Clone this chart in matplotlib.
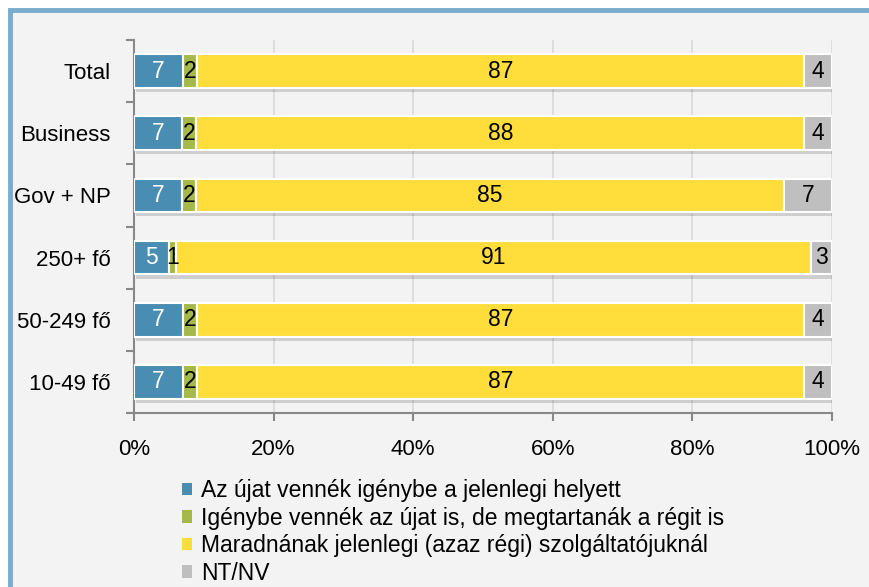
import matplotlib.pyplot as plt
import matplotlib.patheffects as pe
from matplotlib.patches import Rectangle
import numpy as np

plt.rcParams['font.family'] = ['Liberation Sans', 'DejaVu Sans']

categories = ['Total', 'Business', 'Gov + NP', '250+ fő', '50-249 fő', '10-49 fő']
series_names = ['Az újat vennék igénybe a jelenlegi helyett',
                'Igénybe vennék az újat is, de megtartanák a régit is',
                'Maradnának jelenlegi (azaz régi) szolgáltatójuknál',
                'NT/NV']
uj = [7, 7, 7, 5, 7, 7]
mindketto = [2, 2, 2, 1, 2, 2]
marad = [87, 88, 85, 91, 87, 87]
ntnv = [4, 4, 7, 3, 4, 4]
colors = ['#4a8db3', '#a5b94a', '#ffde3c', '#bfbfbf']
label_colors = ['white', 'black', 'black', 'black']
xticks = [0, 20, 40, 60, 80, 100]
xtick_labels = ['0%', '20%', '40%', '60%', '80%', '100%']

W, H = 869, 587
fig = plt.figure(figsize=(W / 100, H / 100), dpi=100, facecolor='white')
# background panel with blue frame on top/left
fig.patches.append(Rectangle((9.5 / W, -0.1), 1.2, 1 - 9.5 / H + 0.1, transform=fig.transFigure,
                             facecolor='#f3f3f3', edgecolor='#7aaccc', linewidth=3.5, zorder=-10))

ax = fig.add_axes([134 / W, 1 - 413 / H, 698 / W, 373 / H])
ax.set_facecolor('none')

data = np.array([uj, mindketto, marad, ntnv], dtype=float)
pct = data / data.sum(axis=0) * 100
y = np.arange(len(categories))
left = np.zeros(len(categories))
shadow = [pe.SimplePatchShadow(offset=(1.5, -3), shadow_rgbFace='black', alpha=0.15), pe.Normal()]
for i in range(4):
    bars = ax.barh(y, pct[i], left=left, height=0.54, color=colors[i], edgecolor='white',
                   linewidth=1.5, zorder=3)
    for b in bars:
        b.set_path_effects(shadow)
    for j in range(len(categories)):
        ax.text(left[j] + pct[i][j] / 2, y[j], f'{int(data[i][j])}', ha='center', va='center',
                fontsize=16.5, color=label_colors[i], zorder=5)
    left += pct[i]

ax.set_xlim(0, 100)
ax.set_ylim(len(categories) - 0.5, -0.5)
ax.set_xticks(xticks)
ax.set_xticklabels(xtick_labels, fontsize=16)
ax.set_yticks(y)
ax.set_yticklabels(categories, fontsize=16)
ax.set_yticks(np.arange(-0.5, len(categories)), minor=True)
ax.tick_params(axis='y', which='major', length=0, pad=17)
ax.tick_params(axis='y', which='minor', length=6, width=1.5, color='#888888')
ax.tick_params(axis='x', length=6, width=1.5, color='#888888', pad=13)
ax.grid(axis='x', color='#d9d9d9', linewidth=1.2, zorder=0)
for s in ['top', 'right']:
    ax.spines[s].set_visible(False)
for s in ['left', 'bottom']:
    ax.spines[s].set_color('#888888')
    ax.spines[s].set_linewidth(1.5)

handles = [Rectangle((0, 0), 1, 1, facecolor=c, edgecolor='none') for c in colors]
fig.legend(handles, series_names, loc='upper left', bbox_to_anchor=(182 / W, 1 - 479 / H),
           frameon=False, fontsize=16.5, handlelength=0.45, handleheight=0.45,
           handletextpad=0.4, labelspacing=0.2, borderaxespad=0, borderpad=0)

fig.savefig('out.png', dpi=100, facecolor='white')
